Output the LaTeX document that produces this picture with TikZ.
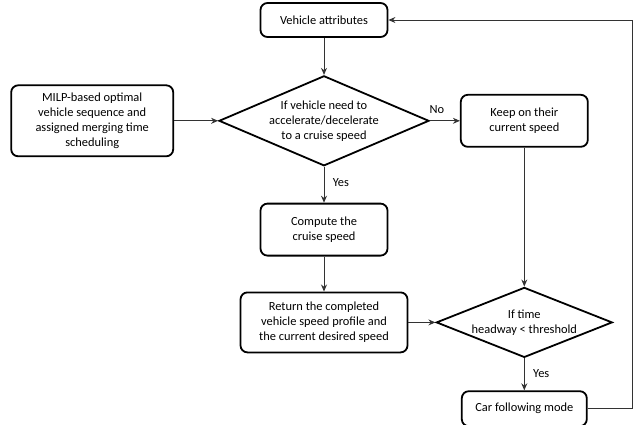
\documentclass[tikz,border=0pt]{standalone}
\usepackage{fontspec}
\setmainfont{Carlito}
\usetikzlibrary{shapes.geometric, arrows.meta, positioning, calc}

\begin{document}
\begin{tikzpicture}[
  x=1pt, y=-1pt,
  >={Stealth[length=7pt,width=6pt]},
  node distance=36pt and 30pt,
  font=\fontsize{12.4}{15}\selectfont,
  proc/.style={rectangle, rounded corners=7pt, draw, line width=1.8pt, minimum width=127pt, minimum height=52pt, align=center, inner sep=2pt},
  decision/.style={diamond, draw, line width=1.8pt, align=center, inner xsep=-10pt, inner ysep=-5pt},
  arrow/.style={->, draw=black!80, line width=0.9pt}
]
\useasboundingbox (0,0) rectangle (644,424);
% -------------------------------------------------------------------------
% MAIN COLUMN: ATTRIBUTES AND CRUISE SPEED
% -------------------------------------------------------------------------
\node[proc, minimum height=34pt] (attr) at (324,20) {Vehicle attributes};
\node[decision, aspect=2.33, minimum width=210pt, minimum height=90pt, below=37pt of attr] (need_acc) {If vehicle need to\\accelerate/decelerate\\to a cruise speed};
\node[proc, minimum width=162pt, minimum height=71pt, left=44pt of need_acc] (milp) {MILP-based optimal\\vehicle sequence and\\assigned merging time\\scheduling};
\node[proc, right=30pt of need_acc] (keep) {Keep on their\\current speed};
\node[proc, below=36pt of need_acc] (cruise) {Compute the\\cruise speed};
\node[proc, minimum width=167pt, minimum height=60pt, below=35pt of cruise] (ret_profile) {Return the completed\\vehicle speed profile and\\the current desired speed};
% -------------------------------------------------------------------------
% RIGHT COLUMN: HEADWAY CHECK
% -------------------------------------------------------------------------
\node[decision, aspect=2.51, minimum width=176pt, minimum height=70pt] (headway) at (keep |- ret_profile) {If time\\headway < threshold};
\node[proc, minimum width=125pt, minimum height=35pt, below=32pt of headway] (car_follow) {Car following mode};

\draw[arrow] (attr) -- (need_acc);
\draw[arrow] (milp) -- (need_acc);
\draw[arrow] (need_acc) -- node[above, pos=0.23, yshift=3pt] {No} (keep);
\draw[arrow] (need_acc) -- node[right, pos=0.44, xshift=5pt] {Yes} (cruise);
\draw[arrow] (cruise) -- (ret_profile);
\draw[arrow] (ret_profile) -- (headway);
\draw[arrow] (keep) -- (headway);
\draw[arrow] (headway) -- node[right, pos=0.47, xshift=5pt] {Yes} (car_follow);
\draw[arrow] (car_follow.east) -- ++(45,0) |- (attr.east);
\end{tikzpicture}
\end{document}
